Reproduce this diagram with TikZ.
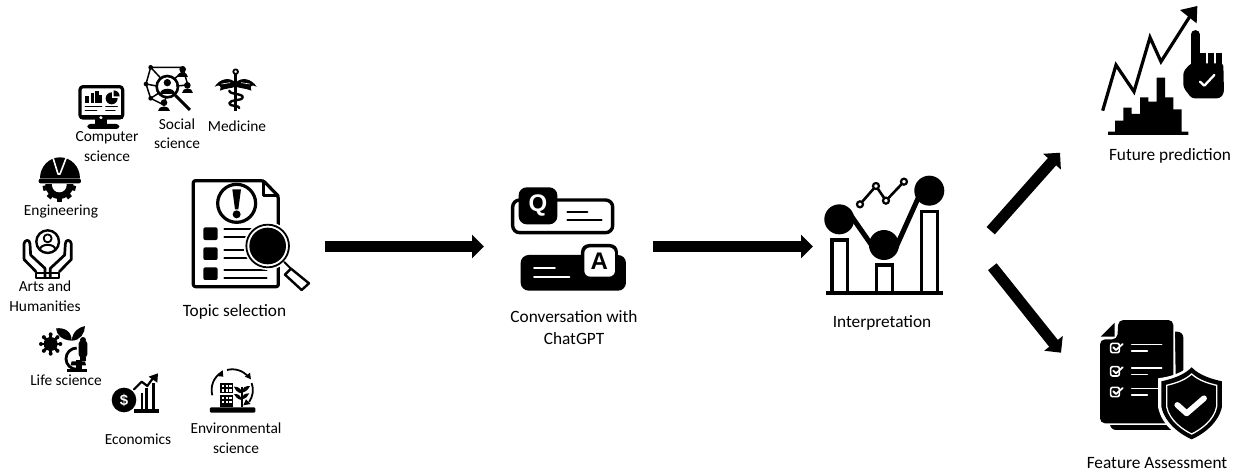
\documentclass[tikz,border=0pt]{standalone}
\usepackage{fontspec}
\setmainfont{Carlito}
\newfontfamily\glyphfont{Liberation Sans}
\usetikzlibrary{arrows.meta}
\tikzset{
  zm/.style 2 args={shift={(#1,#2)},x=0.3333pt,y=-0.3333pt},
  lab/.style={font=\fontsize{15.4}{19.5}\selectfont,align=center,inner sep=0pt,text=black,yshift=-1pt},
  biglab/.style={font=\fontsize{17.3}{22}\selectfont,align=center,inner sep=0pt,text=black,yshift=-1.3pt},
  hub/.style={inner sep=0pt,outer sep=0pt,draw=none},
  flowarrow/.style={line width=11pt,-{Triangle[length=12pt,width=23pt]},black},
  ink/.style={draw=black,line cap=round,line join=round},
  wink/.style={draw=white,line cap=round,line join=round},
}
\begin{document}
\begin{tikzpicture}[x=1pt,y=-1pt]
\useasboundingbox (0,0) rectangle (1237,475);
\fill[white] (0,0) rectangle (1237,475);

%% computer
\begin{scope}[zm={0}{50}]
\draw[ink,line width=3.2pt,rounded corners=3pt] (240,110) rectangle (368,204);
\fill (255,138) rectangle (268,160); \fill (272,130) rectangle (283,160); \fill (285,122) rectangle (296,160); \fill (298,135) rectangle (306,160);
\fill (335,145) circle[radius=18];
\fill[white] (335,145) rectangle (358,122);
\fill (341,139) -- (341,121) arc[start angle=270,end angle=360,radius=18] -- cycle;
\draw[ink,line width=1.5pt] (256,170) -- (305,170) (256,182) -- (290,182) (318,170) -- (352,170) (318,182) -- (345,182);
\fill (240,195) rectangle (368,208);
\fill[white] (303,203) circle[radius=5];
\fill (285,208) rectangle (320,228);
\fill[rounded corners=3pt] (262,222) rectangle (358,237);
\end{scope}
\node[lab] (cslabel) at (107,145.5) {Computer\\science};

%% social science
\begin{scope}[zm={140}{60}]
\draw[ink,line width=1.5pt] (32,22) -- (128,22) (32,22) -- (18,72) -- (32,115) -- (72,135) (128,22) -- (142,70) (32,22) -- (60,52) (18,72) -- (50,78) (32,115) -- (55,100) (72,135) -- (78,110) (105,55) -- (128,35) (110,78) -- (142,75);
\draw[ink,line width=2.6pt] (82,80) circle[radius=32];
\draw[ink,line width=3pt,line cap=butt] (106,106) -- (150,150);
\fill (82,68) circle[radius=11];
\fill (60,102) .. controls (60,80) and (104,80) .. (104,102) -- cycle;
\foreach \a/\b in {32/22,18/72,32/115}{\fill (\a,\b) circle[radius=7];}
\foreach \a/\b in {128/28,142/76,72/128}{\fill (\a,\b) circle[radius=10]; \fill (\a-17,\b+24) .. controls (\a-17,\b+6) and (\a+17,\b+6) .. (\a+17,\b+24) -- cycle;}
\end{scope}
\node[lab] (sslabel) at (177,132.5) {Social\\science};

%% medicine
\begin{scope}[zm={140}{60}]
\draw[ink,line width=1.8pt] (287,35) circle[radius=7];
\draw[ink,line width=2.4pt,line cap=butt] (287,42) -- (287,152);
\fill (287,68) .. controls (270,50) and (240,55) .. (224,80) .. controls (240,72) and (245,78) .. (240,92) .. controls (255,85) and (275,85) .. (287,80) .. controls (299,85) and (319,85) .. (334,92) .. controls (329,78) and (334,72) .. (350,80) .. controls (334,55) and (304,50) .. (287,68) -- cycle;
\draw[wink,line width=.6pt] (245,72) -- (270,68) (329,72) -- (304,68);
\draw[ink,line width=2.4pt] (268,92) .. controls (268,104) and (310,100) .. (308,112) .. controls (306,124) and (268,118) .. (268,130) .. controls (268,140) and (300,136) .. (298,144);
\end{scope}
\node[lab] (medlabel) at (237,125) {Medicine};

%% engineering
\begin{scope}[zm={0}{50}]
\fill (120,385) arc[start angle=180,end angle=360,x radius=60,y radius=63] -- cycle;
\draw[wink,line width=1.6pt,line cap=butt] (158,320) -- (174,372) -- (180,372) -- (200,320);
\fill[rounded corners=2pt] (116,386) rectangle (243,400);
\begin{scope}
\clip (100,405) rectangle (260,470);
\fill (178,405) circle[radius=42];
\foreach \t in {12,50,90,130,168}{\draw[black,line width=5pt,line cap=butt] (178,405) -- ++(\t:50);}
\fill[white] (178,405) circle[radius=22];
\end{scope}
\end{scope}
\node[lab] (englabel) at (61,210.5) {Engineering};

%% arts
\begin{scope}[zm={0}{220}]
\draw[ink,line width=2.4pt] (143,65) circle[radius=34];
\draw[ink,line width=1.8pt] (143,55) circle[radius=12];
\draw[ink,line width=2pt] (120,88) .. controls (122,70) and (164,70) .. (166,88);
\draw[ink,line width=2.7pt] (72,118) -- (72,72) .. controls (72,60) and (90,55) .. (90,72) -- (92,105) -- (135,145) -- (135,172) (72,118) -- (108,155);
\draw[ink,line width=2.7pt] (214,118) -- (214,72) .. controls (214,60) and (196,55) .. (196,72) -- (194,105) -- (151,145) -- (151,172) (214,118) -- (178,155);
\draw[ink,line width=1.8pt] (108,158) -- (178,158) -- (178,174) -- (108,174) -- cycle;
\end{scope}
\node[lab] (artslabel) at (45,295) {Arts and\\Humanities};

%% life science
\begin{scope}[zm={30}{320}]
\fill (62,72) circle[radius=21];
\foreach \t in {0,45,...,315}{\draw[black,line width=2.8pt] (62,72) -- ++(\t:28);\fill (62,72) ++(\t:29) circle[radius=6];}
\fill (125,62) .. controls (95,60) and (80,45) .. (78,25) .. controls (105,22) and (125,35) .. (125,62) -- cycle;
\fill (125,62) .. controls (128,35) and (145,22) .. (165,18) .. controls (165,40) and (150,62) .. (125,62) -- cycle;
\fill[rounded corners=3pt] (146,62) rectangle (172,112);
\fill (159,60) circle[radius=9];
\fill (150,112) rectangle (168,122);
\draw[black,line width=2.8pt,line cap=butt] (140,84) arc[start angle=270,end angle=90,radius=32];
\fill (125,124) -- (165,124) -- (168,136) -- (122,136) -- cycle;
\fill (112,146) rectangle (170,157);
\fill (138,120) rectangle (156,148);
\end{scope}
\node[lab] (lifelabel) at (66,379) {Life science};

%% economics
\begin{scope}[zm={30}{320}]
\fill (282,240) circle[radius=37];
\node[hub,text=white,font=\glyphfont\bfseries\fontsize{15}{15}\selectfont] (dollar) at (282,240) {\$};
\draw[ink,line width=2.2pt] (312,208) -- (335,185) -- (352,198) -- (372,170);
\fill (356,170) -- (384,160) -- (382,188) -- cycle;
\draw[ink,line width=2.4pt,line cap=butt] (336,218) -- (336,268) (350,205) -- (350,268);
\draw[ink,line width=3pt,line cap=butt] (372,190) -- (372,268);
\fill (312,268) rectangle (386,278);
\end{scope}
\node[lab] (econlabel) at (138,438) {Economics};

%% environmental
\begin{scope}[zm={0}{220}]
\draw[black,line width=1.8pt] (637,526) arc[start angle=165,end angle=240,radius=62];
\draw[black,line width=1.8pt] (681,450) arc[start angle=255,end angle=320,radius=62];
\draw[black,line width=1.8pt] (755,489) arc[start angle=-20,end angle=35,radius=62];
\fill (650,468) -- (668,450) -- (670,470) -- cycle;
\fill (753,478) -- (735,470) -- (750,458) -- cycle;
\fill (730,556) -- (752,552) -- (738,538) -- cycle;
\fill (660,488) rectangle (698,562);
\foreach \yy in {495,508,530,543}{\foreach \xx in {666,678,688}{\fill[white] (\xx,\yy) rectangle (\xx+7,\yy+7);}}
\fill[white] (660,518) rectangle (698,524);
\fill[rounded corners=1pt] (630,562) rectangle (766,578);
\draw[black,line width=1.8pt] (725,500) -- (725,562);
\fill (725,520) .. controls (712,518) and (706,510) .. (702,500) .. controls (715,500) and (722,505) .. (725,515) -- cycle;
\fill (725,518) .. controls (738,516) and (745,508) .. (750,498) .. controls (735,498) and (728,503) .. (725,512) -- cycle;
\fill (725,540) .. controls (712,538) and (706,530) .. (702,522) .. controls (715,522) and (722,526) .. (725,535) -- cycle;
\fill (725,538) .. controls (738,536) and (745,528) .. (748,520) .. controls (735,520) and (728,525) .. (725,532) -- cycle;
\end{scope}
\node[lab] (envlabel) at (236,437) {Environmental\\science};

%% topic selection
\begin{scope}[zm={185}{170}]
\draw[ink,line width=3.2pt,rounded corners=2pt] (25,32) -- (235,32) -- (280,78) -- (280,350) -- (25,350) -- cycle;
\draw[ink,line width=2.4pt] (235,32) -- (235,76) -- (280,76);
\draw[ink,line width=3.2pt] (155,100) circle[radius=57];
\fill (142,58) -- (168,58) -- (160,118) -- (150,118) -- cycle;
\fill (155,133) circle[radius=12];
\foreach \yy in {172,232,292}{\fill[rounded corners=2pt] (55,\yy) rectangle (98,\yy+38);}
\foreach \yy in {178,240,300}{\draw[ink,line width=2pt] (118,\yy) -- (245,\yy) (118,\yy+24) -- (245,\yy+24);}
\fill[white] (248,228) circle[radius=72];
\draw[ink,line width=1.8pt] (248,228) circle[radius=64];
\fill (248,228) circle[radius=55];
\draw[ink,line width=2pt] (298,276) -- (318,296);
\draw[ink,line width=2.4pt] (318,296) -- (300,314) -- (350,360) -- (372,340) -- cycle;
\end{scope}
\node[biglab] (topiclabel) at (234.5,311) {Topic selection};

%% chat
\begin{scope}[zm={480}{170}]
\draw[ink,line width=3.4pt,rounded corners=7pt] (98,90) rectangle (398,188);
\fill[rounded corners=8pt] (116,52) rectangle (232,163);
\node[hub,text=white,font=\glyphfont\bfseries\fontsize{24}{24}\selectfont] (qmark) at (174,105) {Q};
\draw[ink,line width=1.9pt] (262,127) -- (322,127) (262,151) -- (365,151);
\fill[rounded corners=8pt] (122,255) rectangle (438,362);
\fill[rounded corners=8pt] (303,222) rectangle (414,330);
\fill[white,rounded corners=6pt] (313,232) rectangle (405,320);
\node[hub,text=black,font=\glyphfont\bfseries\fontsize{24}{24}\selectfont] (amark) at (358,274) {A};
\draw[wink,line width=1.9pt] (162,295) -- (225,295) (162,320) -- (268,320);
\end{scope}
\node[biglab] (chatlabel) at (574,326) {Conversation with\\ChatGPT};

%% interpretation
\begin{scope}[zm={480}{170}]
\draw[black,line width=3.2pt] (1056,368) -- (1056,210) -- (1103,210) -- (1103,368);
\draw[black,line width=3.2pt] (1190,368) -- (1190,285) -- (1238,285) -- (1238,368);
\draw[black,line width=3.2pt] (1325,368) -- (1325,125) -- (1373,125) -- (1373,368);
\draw[black,line width=3.8pt] (1038,368) -- (1388,368);
\draw[black,line width=5pt] (1105,125) -- (1185,240);
\draw[black,line width=5pt] (1240,250) -- (1330,50);
\fill (1078,148) circle[radius=45]; \fill (1212,225) circle[radius=45]; \fill (1348,62) circle[radius=45];
\draw[ink,line width=2.6pt] (1140,103) -- (1188,48) -- (1218,92) -- (1272,35);
\foreach \a/\b in {1140/103,1188/48,1218/92,1272/35}{\filldraw[fill=white,draw=black,line width=2.2pt] (\a,\b) circle[radius=9];}
\end{scope}
\node[biglab] (interplabel) at (882,322) {Interpretation};

%% future prediction
\begin{scope}[zm={1080}{0}]
\draw[black,line width=3.2pt,line join=miter] (68,332) -- (108,195) -- (162,275) -- (210,112) -- (243,185) -- (338,36);
\fill (300,30) -- (352,18) -- (350,70) -- cycle;
\fill (105,362) -- (130,362) -- (130,323) -- (155,323) -- (155,342) -- (180,342) -- (180,292) -- (205,292) -- (205,305) -- (230,305) -- (230,233) -- (255,233) -- (255,292) -- (280,292) -- (280,328) -- (305,328) -- (305,395) -- (325,395) -- (325,405) -- (84,405) -- (84,395) -- (105,395) -- cycle;
\draw[ink,line width=8.5pt] (346,103) -- (346,200);
\draw[black,line width=6pt] (368,158) -- (368,205) (392,158) -- (392,205) (417,158) -- (417,205);
\fill[rounded corners=3pt] (310,215) -- (332,190) -- (430,190) -- (432,280) -- (420,295) -- (335,295) -- (310,262) -- cycle;
\draw[wink,line width=2.3pt] (360,245) -- (373,257) -- (403,225);
\end{scope}
\node[biglab] (futurelabel) at (1170,155) {Future prediction};

%% feature assessment
\begin{scope}[zm={1080}{310}]
\fill[rounded corners=6pt] (90,65) rectangle (310,360);
\fill[white] (84,35) -- (284,35) -- (290,345) -- (54,345) -- (54,85) -- cycle;
\fill[rounded corners=5pt] (115,30) -- (280,30) -- (280,340) -- (60,340) -- (60,88) -- (112,88) -- cycle;
\fill (104,38) -- (104,80) -- (62,80) -- cycle;
\foreach \yy in {100,170,232}{
  \draw[wink,line width=1.6pt,rounded corners=2pt] (92,\yy) rectangle (118,\yy+28);
  \draw[wink,line width=1.8pt] (100,\yy+12) -- (108,\yy+20) -- (128,\yy+2);
  \draw[wink,line width=1.5pt] (155,\yy+4) -- (245,\yy+4) (155,\yy+23) -- (202,\yy+23);
}
\fill[white] (335,160) .. controls (360,190) and (400,200) .. (436,205) -- (436,290) .. controls (425,350) and (365,385) .. (335,398) .. controls (300,385) and (245,350) .. (234,290) -- (234,205) .. controls (270,200) and (310,190) .. (335,160) -- cycle;
\fill (335,172) .. controls (360,198) and (400,208) .. (426,214) -- (426,290) .. controls (415,342) and (365,375) .. (335,388) .. controls (305,375) and (255,342) .. (244,290) -- (244,214) .. controls (270,208) and (310,198) .. (335,172) -- cycle;
\draw[white,line width=1.3pt] (335,192) .. controls (357,212) and (385,220) .. (410,226) -- (410,290) .. controls (402,332) and (360,360) .. (335,372) .. controls (310,360) and (268,332) .. (260,290) -- (260,226) .. controls (285,220) and (313,212) .. (335,192) -- cycle;
\draw[wink,line width=5.8pt] (292,285) -- (320,310) -- (372,265);
\end{scope}
\node[biglab] (featurelabel) at (1157,462) {Feature Assessment};

%% connector hubs
\node[hub,minimum width=133pt,minimum height=112pt] (topic) at (258.5,246.5) {};
\node[hub,minimum width=169pt,minimum height=112pt] (chat) at (568.5,246.5) {};
\node[hub,minimum width=100pt,minimum height=100pt] (interp) at (863,246.5) {};
\coordinate (interpup) at (990.7,230.7);
\coordinate (interpdown) at (992.3,266.7);
\node[hub,minimum width=120pt,minimum height=150pt,anchor=south west] (future) at (1060,152.7) {};
\node[hub,minimum width=120pt,minimum height=110pt,anchor=north west] (feature) at (1061,352.7) {};
\draw[flowarrow] (topic.east) -- (chat.west);
\draw[flowarrow] (chat.east) -- (interp.west);
\draw[flowarrow] (interpup) -- (future.south west);
\draw[flowarrow] (interpdown) -- (feature.north west);
\end{tikzpicture}
\end{document}
